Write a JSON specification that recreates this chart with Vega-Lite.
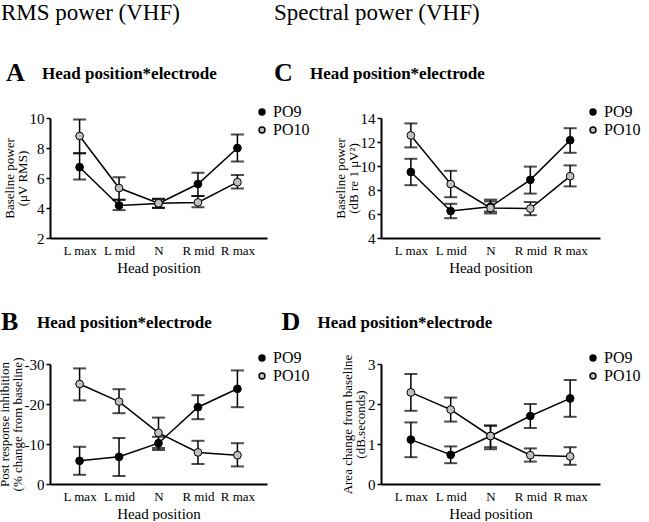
{
  "$schema": "https://vega.github.io/schema/vega-lite/v6.json",
  "background": "white",
  "padding": {"left": -2, "top": 2, "right": 0, "bottom": 0},
  "spacing": -36,
  "datasets": {
    "A": [
      {"pos": "L max", "elec": "PO9", "m": 6.72, "lo": 5.9, "hi": 7.65},
      {"pos": "L mid", "elec": "PO9", "m": 4.17, "lo": 3.86, "hi": 4.55},
      {"pos": "N", "elec": "PO9", "m": 4.3, "lo": 4.0, "hi": 4.6},
      {"pos": "R mid", "elec": "PO9", "m": 5.6, "lo": 4.8, "hi": 6.35},
      {"pos": "R max", "elec": "PO9", "m": 8.0, "lo": 7.1, "hi": 8.9},
      {"pos": "L max", "elec": "PO10", "m": 8.8, "lo": 7.65, "hi": 9.9},
      {"pos": "L mid", "elec": "PO10", "m": 5.33, "lo": 4.55, "hi": 6.05},
      {"pos": "N", "elec": "PO10", "m": 4.32, "lo": 4.02, "hi": 4.62},
      {"pos": "R mid", "elec": "PO10", "m": 4.37, "lo": 4.05, "hi": 4.8},
      {"pos": "R max", "elec": "PO10", "m": 5.72, "lo": 5.3, "hi": 6.2}
    ],
    "B": [
      {"pos": "L max", "elec": "PO9", "m": -5.8, "lo": -9.3, "hi": -2.3},
      {"pos": "L mid", "elec": "PO9", "m": -6.8, "lo": -11.5, "hi": -2.0},
      {"pos": "N", "elec": "PO9", "m": -10.2, "lo": -11.8, "hi": -8.5},
      {"pos": "R mid", "elec": "PO9", "m": -19.2, "lo": -22.2, "hi": -16.2},
      {"pos": "R max", "elec": "PO9", "m": -23.8, "lo": -28.4, "hi": -19.2},
      {"pos": "L max", "elec": "PO10", "m": -25.0, "lo": -28.9, "hi": -20.9},
      {"pos": "L mid", "elec": "PO10", "m": -20.6, "lo": -23.7, "hi": -17.7},
      {"pos": "N", "elec": "PO10", "m": -12.8, "lo": -16.6, "hi": -9.0},
      {"pos": "R mid", "elec": "PO10", "m": -7.9, "lo": -10.8, "hi": -5.0},
      {"pos": "R max", "elec": "PO10", "m": -7.2, "lo": -10.2, "hi": -4.4}
    ],
    "C": [
      {"pos": "L max", "elec": "PO9", "m": 9.5, "lo": 8.4, "hi": 10.6},
      {"pos": "L mid", "elec": "PO9", "m": 6.25, "lo": 5.65, "hi": 6.85},
      {"pos": "N", "elec": "PO9", "m": 6.6, "lo": 6.05, "hi": 7.2},
      {"pos": "R mid", "elec": "PO9", "m": 8.85, "lo": 7.7, "hi": 9.95},
      {"pos": "R max", "elec": "PO9", "m": 12.15, "lo": 11.1, "hi": 13.15},
      {"pos": "L max", "elec": "PO10", "m": 12.55, "lo": 11.55, "hi": 13.55},
      {"pos": "L mid", "elec": "PO10", "m": 8.5, "lo": 7.4, "hi": 9.6},
      {"pos": "N", "elec": "PO10", "m": 6.5, "lo": 6.2, "hi": 7.05},
      {"pos": "R mid", "elec": "PO10", "m": 6.45, "lo": 5.9, "hi": 7.0},
      {"pos": "R max", "elec": "PO10", "m": 9.15, "lo": 8.3, "hi": 10.05}
    ],
    "D": [
      {"pos": "L max", "elec": "PO9", "m": 1.11, "lo": 0.67, "hi": 1.54},
      {"pos": "L mid", "elec": "PO9", "m": 0.73, "lo": 0.52, "hi": 0.94},
      {"pos": "N", "elec": "PO9", "m": 1.2, "lo": 0.92, "hi": 1.46},
      {"pos": "R mid", "elec": "PO9", "m": 1.7, "lo": 1.4, "hi": 2.0},
      {"pos": "R max", "elec": "PO9", "m": 2.14, "lo": 1.68, "hi": 2.6},
      {"pos": "L max", "elec": "PO10", "m": 2.29, "lo": 1.83, "hi": 2.75},
      {"pos": "L mid", "elec": "PO10", "m": 1.86, "lo": 1.56, "hi": 2.16},
      {"pos": "N", "elec": "PO10", "m": 1.2, "lo": 0.87, "hi": 1.46},
      {"pos": "R mid", "elec": "PO10", "m": 0.72, "lo": 0.56, "hi": 0.89},
      {"pos": "R max", "elec": "PO10", "m": 0.69, "lo": 0.48, "hi": 0.92}
    ]
  },
  "resolve": {"scale": {"x": "independent", "y": "independent", "fill": "independent"}, "legend": {"fill": "independent"}},
  "hconcat": [
    {
      "title": {"text": "RMS power (VHF)", "anchor": "start", "frame": "bounds", "fontSize": 23, "fontWeight": "normal", "font": "Liberation Serif", "color": "black", "offset": 35, "dx": 3},
      "spacing": 34,
      "resolve": {"scale": {"x": "independent", "y": "independent", "fill": "independent"}, "legend": {"fill": "independent"}},
      "vconcat": [
        {
          "width": 217, "height": 120,
          "data": {"name": "A"},
          "title": {"text": "A", "subtitle": "\u2800\u2800\u2800Head position*electrode", "anchor": "start", "frame": "bounds", "font": "Liberation Serif", "fontSize": 26, "fontWeight": "bold", "color": "black", "subtitleFont": "Liberation Serif", "subtitleFontSize": 17, "subtitleFontWeight": "bold", "subtitleColor": "black", "subtitlePadding": -20, "offset": 18, "dx": 3},
          "encoding": {"x": {"field": "pos", "type": "ordinal", "scale": {"type": "point", "domain": ["L max", "L mid", "N", "R mid", "R max"], "padding": 0.75}, "axis": {"title": "Head position"}}},
          "layer": [
            {"mark": {"type": "line", "color": "black", "strokeWidth": 1.5}, "encoding": {"y": {"field": "m", "type": "quantitative", "scale": {"domain": [2, 10]}, "axis": {"values": [2, 4, 6, 8, 10], "tickCount": 20, "format": "d", "title": ["Baseline power", "(\u03bcV RMS)"]}}, "detail": {"field": "elec"}}},
            {"mark": {"type": "rule", "color": "black", "strokeWidth": 1.5}, "encoding": {"y": {"field": "lo", "type": "quantitative"}, "y2": {"field": "hi"}}},
            {"mark": {"type": "tick", "color": "black", "size": 13, "thickness": 2}, "encoding": {"y": {"field": "lo", "type": "quantitative"}}},
            {"mark": {"type": "tick", "color": "black", "size": 13, "thickness": 2}, "encoding": {"y": {"field": "hi", "type": "quantitative"}}},
            {"mark": {"type": "point", "filled": true, "size": 60, "stroke": "black", "strokeWidth": 1, "opacity": 1}, "encoding": {"y": {"field": "m", "type": "quantitative"}, "fill": {"field": "elec", "type": "nominal", "scale": {"domain": ["PO9", "PO10"], "range": ["black", "#c0c0c0"]}, "legend": {"title": null, "orient": "none", "legendX": 204, "legendY": -14}}}}
          ]
        },
        {
          "width": 217, "height": 120,
          "data": {"name": "B"},
          "title": {"text": "B", "subtitle": "\u2800\u2800\u2800Head position*electrode", "anchor": "start", "frame": "bounds", "font": "Liberation Serif", "fontSize": 26, "fontWeight": "bold", "color": "black", "subtitleFont": "Liberation Serif", "subtitleFontSize": 17, "subtitleFontWeight": "bold", "subtitleColor": "black", "subtitlePadding": -20, "offset": 15, "dx": 3},
          "encoding": {"x": {"field": "pos", "type": "ordinal", "scale": {"type": "point", "domain": ["L max", "L mid", "N", "R mid", "R max"], "padding": 0.75}, "axis": {"title": "Head position"}}},
          "layer": [
            {"mark": {"type": "line", "color": "black", "strokeWidth": 1.5}, "encoding": {"y": {"field": "m", "type": "quantitative", "scale": {"domain": [-30, 0], "reverse": true}, "axis": {"values": [-30, -20, -10, 0], "tickCount": 20, "labelExpr": "datum.value < 0 ? '-' + toString(abs(datum.value)) : '0'", "title": ["Post response inhibition", "(% change from baseline)"]}}, "detail": {"field": "elec"}}},
            {"mark": {"type": "rule", "color": "black", "strokeWidth": 1.5}, "encoding": {"y": {"field": "lo", "type": "quantitative"}, "y2": {"field": "hi"}}},
            {"mark": {"type": "tick", "color": "black", "size": 13, "thickness": 2}, "encoding": {"y": {"field": "lo", "type": "quantitative"}}},
            {"mark": {"type": "tick", "color": "black", "size": 13, "thickness": 2}, "encoding": {"y": {"field": "hi", "type": "quantitative"}}},
            {"mark": {"type": "point", "filled": true, "size": 60, "stroke": "black", "strokeWidth": 1, "opacity": 1}, "encoding": {"y": {"field": "m", "type": "quantitative"}, "fill": {"field": "elec", "type": "nominal", "scale": {"domain": ["PO9", "PO10"], "range": ["black", "#c0c0c0"]}, "legend": {"title": null, "orient": "none", "legendX": 204, "legendY": -14}}}}
          ]
        }
      ]
    },
    {
      "title": {"text": "Spectral power (VHF)", "anchor": "start", "frame": "bounds", "fontSize": 23, "fontWeight": "normal", "font": "Liberation Serif", "color": "black", "offset": 35, "dx": 0},
      "spacing": 34,
      "resolve": {"scale": {"x": "independent", "y": "independent", "fill": "independent"}, "legend": {"fill": "independent"}},
      "vconcat": [
        {
          "width": 219, "height": 120,
          "data": {"name": "C"},
          "title": {"text": "C", "subtitle": "\u2800\u2800\u2800Head position*electrode", "anchor": "start", "frame": "bounds", "font": "Liberation Serif", "fontSize": 26, "fontWeight": "bold", "color": "black", "subtitleFont": "Liberation Serif", "subtitleFontSize": 17, "subtitleFontWeight": "bold", "subtitleColor": "black", "subtitlePadding": -20, "offset": 18, "dx": -60},
          "encoding": {"x": {"field": "pos", "type": "ordinal", "scale": {"type": "point", "domain": ["L max", "L mid", "N", "R mid", "R max"], "padding": 0.75}, "axis": {"title": "Head position"}}},
          "layer": [
            {"mark": {"type": "line", "color": "black", "strokeWidth": 1.5}, "encoding": {"y": {"field": "m", "type": "quantitative", "scale": {"domain": [4, 14]}, "axis": {"values": [4, 6, 8, 10, 12, 14], "tickCount": 20, "format": "d", "title": ["Baseline power", "(dB re 1 \u03bcV\u00b2)"]}}, "detail": {"field": "elec"}}},
            {"mark": {"type": "rule", "color": "black", "strokeWidth": 1.5}, "encoding": {"y": {"field": "lo", "type": "quantitative"}, "y2": {"field": "hi"}}},
            {"mark": {"type": "tick", "color": "black", "size": 13, "thickness": 2}, "encoding": {"y": {"field": "lo", "type": "quantitative"}}},
            {"mark": {"type": "tick", "color": "black", "size": 13, "thickness": 2}, "encoding": {"y": {"field": "hi", "type": "quantitative"}}},
            {"mark": {"type": "point", "filled": true, "size": 60, "stroke": "black", "strokeWidth": 1, "opacity": 1}, "encoding": {"y": {"field": "m", "type": "quantitative"}, "fill": {"field": "elec", "type": "nominal", "scale": {"domain": ["PO9", "PO10"], "range": ["black", "#c0c0c0"]}, "legend": {"title": null, "orient": "none", "legendX": 204, "legendY": -14}}}}
          ]
        },
        {
          "width": 219, "height": 120,
          "data": {"name": "D"},
          "title": {"text": "D", "subtitle": "\u2800\u2800\u2800Head position*electrode", "anchor": "start", "frame": "bounds", "font": "Liberation Serif", "fontSize": 26, "fontWeight": "bold", "color": "black", "subtitleFont": "Liberation Serif", "subtitleFontSize": 17, "subtitleFontWeight": "bold", "subtitleColor": "black", "subtitlePadding": -20, "offset": 15, "dx": -60},
          "encoding": {"x": {"field": "pos", "type": "ordinal", "scale": {"type": "point", "domain": ["L max", "L mid", "N", "R mid", "R max"], "padding": 0.75}, "axis": {"title": "Head position"}}},
          "layer": [
            {"mark": {"type": "line", "color": "black", "strokeWidth": 1.5}, "encoding": {"y": {"field": "m", "type": "quantitative", "scale": {"domain": [0, 3]}, "axis": {"values": [0, 1, 2, 3], "tickCount": 20, "format": "d", "title": ["Area change from baseline", "(dB.seconds)"]}}, "detail": {"field": "elec"}}},
            {"mark": {"type": "rule", "color": "black", "strokeWidth": 1.5}, "encoding": {"y": {"field": "lo", "type": "quantitative"}, "y2": {"field": "hi"}}},
            {"mark": {"type": "tick", "color": "black", "size": 13, "thickness": 2}, "encoding": {"y": {"field": "lo", "type": "quantitative"}}},
            {"mark": {"type": "tick", "color": "black", "size": 13, "thickness": 2}, "encoding": {"y": {"field": "hi", "type": "quantitative"}}},
            {"mark": {"type": "point", "filled": true, "size": 60, "stroke": "black", "strokeWidth": 1, "opacity": 1}, "encoding": {"y": {"field": "m", "type": "quantitative"}, "fill": {"field": "elec", "type": "nominal", "scale": {"domain": ["PO9", "PO10"], "range": ["black", "#c0c0c0"]}, "legend": {"title": null, "orient": "none", "legendX": 204, "legendY": -14}}}}
          ]
        }
      ]
    }
  ],
  "config": {
    "view": {"stroke": null},
    "font": "Liberation Serif",
    "axis": {"grid": false, "domainColor": "black", "domainWidth": 2, "tickColor": "black", "tickWidth": 1.5, "labelColor": "black", "titleColor": "black", "labelFont": "Liberation Serif", "titleFont": "Liberation Serif", "titleFontWeight": "normal"},
    "axisX": {"ticks": false, "labelFontSize": 13, "titleFontSize": 15, "labelAngle": 0, "labelPadding": 6, "titlePadding": 3},
    "axisY": {"labelFontSize": 15, "labelOverlap": false, "titleFontSize": 13, "tickSize": 4, "labelPadding": 2, "titlePadding": 0, "titleLineHeight": 13},
    "legend": {"labelFont": "Liberation Serif", "labelFontSize": 16, "labelColor": "black", "symbolSize": 35, "symbolStrokeColor": "black", "rowPadding": 2, "labelOffset": 3}
  }
}
